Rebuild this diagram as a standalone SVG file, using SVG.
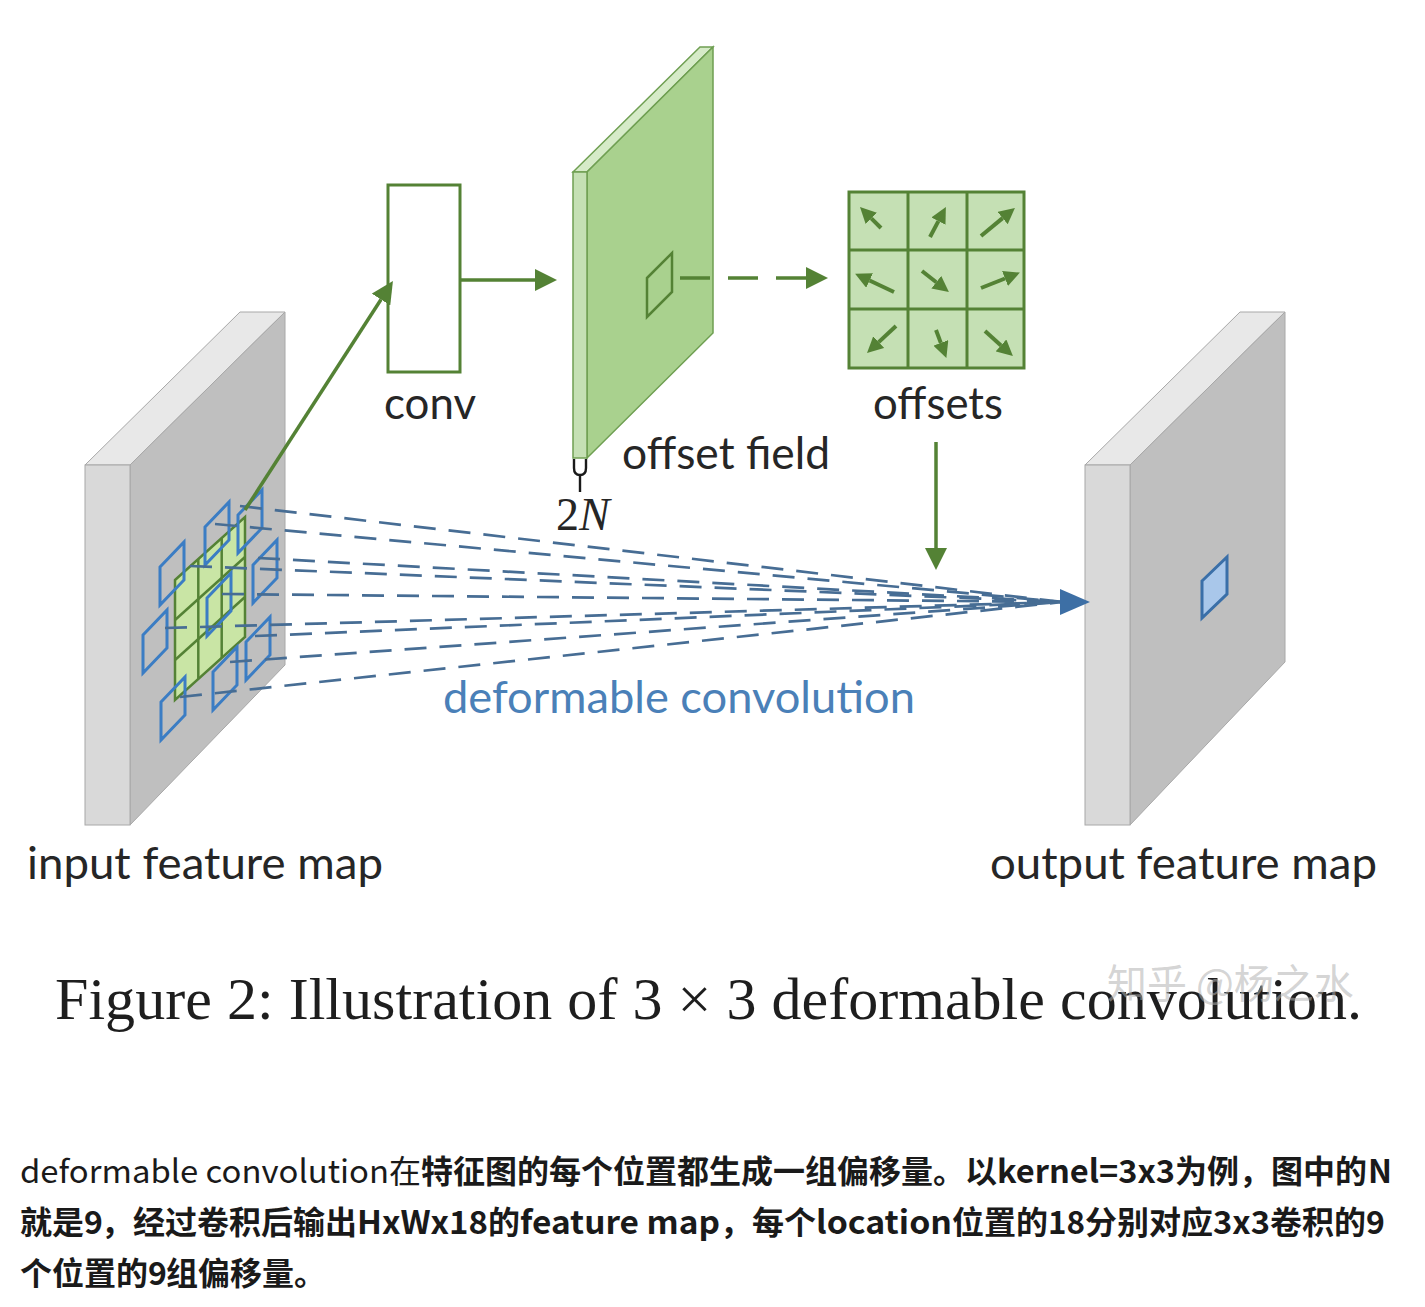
<svg xmlns="http://www.w3.org/2000/svg" width="1425" height="1307" viewBox="0 0 1425 1307">
<defs>
<style>
.plate-strip{fill:#d9d9d9;stroke:#a8a8a8;stroke-width:1}
.plate-top{fill:#e8e8e8;stroke:#a8a8a8;stroke-width:1}
.plate-main{fill:#bfbfbf;stroke:#a8a8a8;stroke-width:1}
.g-strip{fill:#c5e0b4;stroke:#6f9f52;stroke-width:1.5}
.g-top{fill:#d6ebc8;stroke:#6f9f52;stroke-width:1.5}
.g-main{fill:#a9d18e;stroke:#6f9f52;stroke-width:1.5}
.bsq{fill:none;stroke:#3b7dc4;stroke-width:3;stroke-linejoin:miter}
.grid{fill:none;stroke:#548235;stroke-width:2.5}
.dash{fill:none;stroke:#476d94;stroke-width:2.7;stroke-dasharray:22 13}
.garrow{fill:none;stroke:#548235;stroke-width:3.5}
.sarrow{fill:none;stroke:#548235;stroke-width:4}
.lbl{font-family:Lato,"Open Sans","Liberation Sans",sans-serif;font-size:44px;fill:#262626}
.blue{fill:#4a80b8}
.cap{font-family:"Liberation Serif",serif;font-size:60px;fill:#1e1e1e}
.body{font-family:"Noto Sans CJK SC","Noto Sans",sans-serif;font-size:32px;fill:#1a1a1a}
.b{font-weight:700}
</style>
<marker id="ag" viewBox="0 0 10 10" refX="0" refY="5" markerWidth="22" markerHeight="22" markerUnits="userSpaceOnUse" orient="auto"><path d="M0,0 L10,5 L0,10 z" fill="#548235"/></marker>
<marker id="as" viewBox="0 0 10 10" refX="0" refY="5" markerWidth="16" markerHeight="16" markerUnits="userSpaceOnUse" orient="auto"><path d="M0,0 L10,5 L0,10 z" fill="#548235"/></marker>
</defs>
<rect x="0" y="0" width="1425" height="1307" fill="#ffffff"/>

<g id="input-feature-map">
<polygon class="plate-top" points="85,465 240,312 285,312 130,465"/>
<polygon class="plate-main" points="130,465 285,312 285,665 130,825"/>
<rect class="plate-strip" x="85" y="465" width="45" height="360"/>
<polygon fill="#c9e5a5" stroke="none" points="175,580 245,517 245,637 175,700"/>
<g class="grid">
<polygon points="175,580 245,517 245,637 175,700"/>
<line x1="198.3" y1="559" x2="198.3" y2="679"/>
<line x1="221.7" y1="538" x2="221.7" y2="658"/>
<line x1="175" y1="620" x2="245" y2="557"/>
<line x1="175" y1="660" x2="245" y2="597"/>
</g>
<g class="bsq">
<polygon points="238,515 262,490 262,528 238,553"/>
<polygon points="205,527 229,502 229,540 205,565"/>
<polygon points="160,567 184,542 184,580 160,605"/>
<polygon points="253,565 277,540 277,578 253,603"/>
<polygon points="207,598 231,573 231,611 207,636"/>
<polygon points="143,635 167,610 167,648 143,673"/>
<polygon points="246,642 270,617 270,655 246,680"/>
<polygon points="213,672 237,647 237,685 213,710"/>
<polygon points="161,702 185,677 185,715 161,740"/>
</g>
<text class="lbl" x="27" y="879" textLength="356" lengthAdjust="spacingAndGlyphs">input feature map</text>
</g>

<g id="conv">
<rect x="388" y="185" width="72" height="187" fill="#ffffff" stroke="#548235" stroke-width="3"/>
<text class="lbl" x="384" y="419" textLength="92" lengthAdjust="spacingAndGlyphs">conv</text>
</g>

<g id="offset-field">
<polygon class="g-top" points="573,172 700,47 713,47 587,172"/>
<polygon class="g-main" points="587,172 713,47 713,333 587,458"/>
<rect class="g-strip" x="573" y="172" width="14" height="286"/>
<polygon points="647,278 672,253 672,292 647,317" fill="none" stroke="#548235" stroke-width="2.5"/>
<path d="M574,459 L574,468 Q574,475 580,475 Q586,475 586,468 L586,459" fill="none" stroke="#1a1a1a" stroke-width="2.4"/>
<line x1="580" y1="475" x2="580" y2="492" stroke="#1a1a1a" stroke-width="2.4"/>
<text x="556" y="530" font-family="Liberation Serif,serif" font-size="46" fill="#262626">2<tspan font-style="italic">N</tspan></text>
<text class="lbl" x="622" y="469" textLength="208" lengthAdjust="spacingAndGlyphs">offset field</text>
</g>

<g id="offsets">
<rect x="849" y="192" width="175" height="176" fill="#c5e0b4"/>
<g fill="none" stroke="#548235" stroke-width="3">
<rect x="849" y="192" width="175" height="176"/>
<line x1="908" y1="192" x2="908" y2="368"/>
<line x1="967" y1="192" x2="967" y2="368"/>
<line x1="849" y1="250" x2="1024" y2="250"/>
<line x1="849" y1="309" x2="1024" y2="309"/>
</g>
<g class="sarrow" marker-end="url(#as)">
<line x1="881" y1="228" x2="871.3" y2="218.3"/>
<line x1="930" y1="237" x2="938.4" y2="221.1"/>
<line x1="981" y1="236" x2="1002.6" y2="218.1"/>
<line x1="894" y1="292" x2="869.6" y2="280.5"/>
<line x1="922" y1="271" x2="936.3" y2="282.2"/>
<line x1="981" y1="288" x2="1005" y2="278.5"/>
<line x1="896" y1="326" x2="878.7" y2="342.1"/>
<line x1="936" y1="330" x2="940.8" y2="342.9"/>
<line x1="985" y1="331" x2="1001" y2="345.4"/>
</g>
<text class="lbl" x="873" y="419" textLength="130" lengthAdjust="spacingAndGlyphs">offsets</text>
</g>

<g id="output-feature-map">
<polygon class="plate-top" points="1085,465 1240,312 1285,312 1130,465"/>
<polygon class="plate-main" points="1130,465 1285,312 1285,662 1130,825"/>
<rect class="plate-strip" x="1085" y="465" width="45" height="360"/>
<polygon points="1202,581 1227,557 1227,594 1202,618" fill="#a9c7ea" stroke="#3a6fa8" stroke-width="3"/>
<text class="lbl" x="990" y="879" textLength="387" lengthAdjust="spacingAndGlyphs">output feature map</text>
</g>

<g id="connectors">
<g class="dash">
<line x1="240" y1="506" x2="1062" y2="602"/>
<line x1="215" y1="524" x2="1062" y2="602"/>
<line x1="258" y1="558" x2="1062" y2="602"/>
<line x1="190" y1="566" x2="1062" y2="602"/>
<line x1="222" y1="594" x2="1062" y2="602"/>
<line x1="165" y1="628" x2="1062" y2="602"/>
<line x1="255" y1="636" x2="1062" y2="602"/>
<line x1="230" y1="662" x2="1062" y2="602"/>
<line x1="180" y1="697" x2="1062" y2="602"/>
</g>
<polygon points="1060,589 1090,602 1060,615" fill="#3d6fa5"/>
<line class="garrow" x1="245" y1="510" x2="381" y2="299.5" marker-end="url(#ag)"/>
<line class="garrow" x1="460" y1="280" x2="535" y2="280" marker-end="url(#ag)"/>
<line class="garrow" x1="680" y1="278" x2="806" y2="278" stroke-dasharray="30 18" marker-end="url(#ag)"/>
<line class="garrow" x1="936" y1="442" x2="936" y2="548" marker-end="url(#ag)"/>
<text class="lbl blue" x="443" y="713" textLength="472" lengthAdjust="spacingAndGlyphs">deformable convolution</text>
</g>

<g id="caption">
<text class="cap" x="55" y="1019" textLength="1307" lengthAdjust="spacing">Figure 2: Illustration of 3 × 3 deformable convolution.</text>
<text x="1107" y="998" font-family="Noto Sans CJK SC,sans-serif" font-size="40" fill="#b0b0b0" fill-opacity="0.55">知乎 @杨之水</text>
</g>

<g id="body-text" class="body">
<text x="20" y="1183" textLength="369" lengthAdjust="spacingAndGlyphs">deformable convolution</text>
<text x="389" y="1183">在</text>
<text class="b" x="421" y="1183">特征图的每个位置都生成一组偏移量。以</text>
<text class="b" x="997" y="1183" textLength="178" lengthAdjust="spacingAndGlyphs">kernel=3x3</text>
<text class="b" x="1175" y="1183">为例，图中的</text>
<text class="b" x="1368" y="1183">N</text>

<text class="b" x="20" y="1234">就是</text>
<text class="b" x="84" y="1234">9</text>
<text class="b" x="101" y="1234">，经过卷积后输出</text>
<text class="b" x="357" y="1234" textLength="131" lengthAdjust="spacingAndGlyphs">HxWx18</text>
<text class="b" x="488" y="1234">的</text>
<text class="b" x="520" y="1234" textLength="200" lengthAdjust="spacingAndGlyphs">feature map</text>
<text class="b" x="720" y="1234">，每个</text>
<text class="b" x="816" y="1234" textLength="136" lengthAdjust="spacingAndGlyphs">location</text>
<text class="b" x="952" y="1234">位置的</text>
<text class="b" x="1048" y="1234" textLength="37" lengthAdjust="spacingAndGlyphs">18</text>
<text class="b" x="1085" y="1234">分别对应</text>
<text class="b" x="1213" y="1234" textLength="57" lengthAdjust="spacingAndGlyphs">3x3</text>
<text class="b" x="1270" y="1234">卷积的</text>
<text class="b" x="1366" y="1234">9</text>

<text class="b" x="20" y="1285">个位置的</text>
<text class="b" x="148" y="1285">9</text>
<text class="b" x="166" y="1285">组偏移量。</text>
</g>
</svg>
